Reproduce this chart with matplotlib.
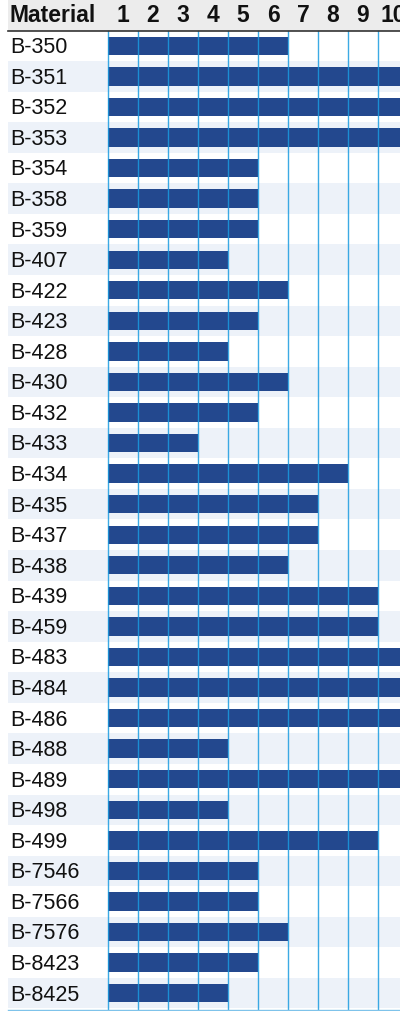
import matplotlib
matplotlib.use('Agg')
import matplotlib.pyplot as plt
from matplotlib import font_manager

# data
materials = ['B-350', 'B-351', 'B-352', 'B-353', 'B-354', 'B-358', 'B-359', 'B-407',
             'B-422', 'B-423', 'B-428', 'B-430', 'B-432', 'B-433', 'B-434', 'B-435',
             'B-437', 'B-438', 'B-439', 'B-459', 'B-483', 'B-484', 'B-486', 'B-488',
             'B-489', 'B-498', 'B-499', 'B-7546', 'B-7566', 'B-7576', 'B-8423', 'B-8425']
values = [6, 10, 10, 10, 5, 5, 5, 4,
          6, 5, 4, 6, 5, 3, 8, 7,
          7, 6, 9, 9, 10, 10, 10, 4,
          10, 4, 9, 5, 5, 6, 5, 4]
scale_labels = ['1', '2', '3', '4', '5', '6', '7', '8', '9', '10']

names = {f.name for f in font_manager.fontManager.ttflist}
fam = ['Liberation Sans Narrow'] if 'Liberation Sans Narrow' in names else ['Liberation Sans']
fam = fam + ['DejaVu Sans']
print(fam)

W, H = 400, 1012
x0_px, unit_px = 108, 30.0
head_px, row_px = 31.5, 30.56
n = len(materials)

fig = plt.figure(figsize=(W / 100, H / 100), dpi=100)
ax = fig.add_axes([0, 0, 1, 1])
ax.set_xlim(-x0_px / unit_px, (W - x0_px) / unit_px)
top = -0.5 - head_px / row_px
bottom = top + H / row_px
ax.set_ylim(bottom, top)
ax.axis('off')

left = -(x0_px - 8) / unit_px
right = (W - x0_px) / unit_px
# header band
ax.fill_between([left, right], top, -0.5, color='#ececec', lw=0, zorder=0)
ax.plot([left, right], [-0.5, -0.5], color='#333333', lw=1.2, zorder=4)

# row stripes
for i in range(n):
    if i % 2 == 1:
        ax.fill_between([left, right], i - 0.5, i + 0.5, color='#edf2f9', lw=0, zorder=0)

ax.barh(range(n), values, left=0, height=0.6, color='#23488e', zorder=2)

for k in range(11):
    ax.plot([k, k], [-0.5, n - 0.45], color='#1a9be0', lw=1, alpha=0.85, zorder=3)
ax.plot([left, right], [n - 0.45, n - 0.45], color='#7fc3ea', lw=1, zorder=3)

ax.text(left + 0.06, top + (-0.5 - top) / 2, 'Material', fontsize=16.5, fontweight='bold',
        family=fam, ha='left', va='center', color='#111111')
for k, lab in enumerate(scale_labels):
    ax.text(k + 0.5, top + (-0.5 - top) / 2, lab, fontsize=16.5, fontweight='bold',
            family=fam, ha='center', va='center', color='#111111')

for i, m in enumerate(materials):
    ax.text(left + 0.07, i + 0.03, m, fontsize=15.5, family=fam, ha='left', va='center',
            color='#111111')

fig.savefig('out.png', dpi=100)
